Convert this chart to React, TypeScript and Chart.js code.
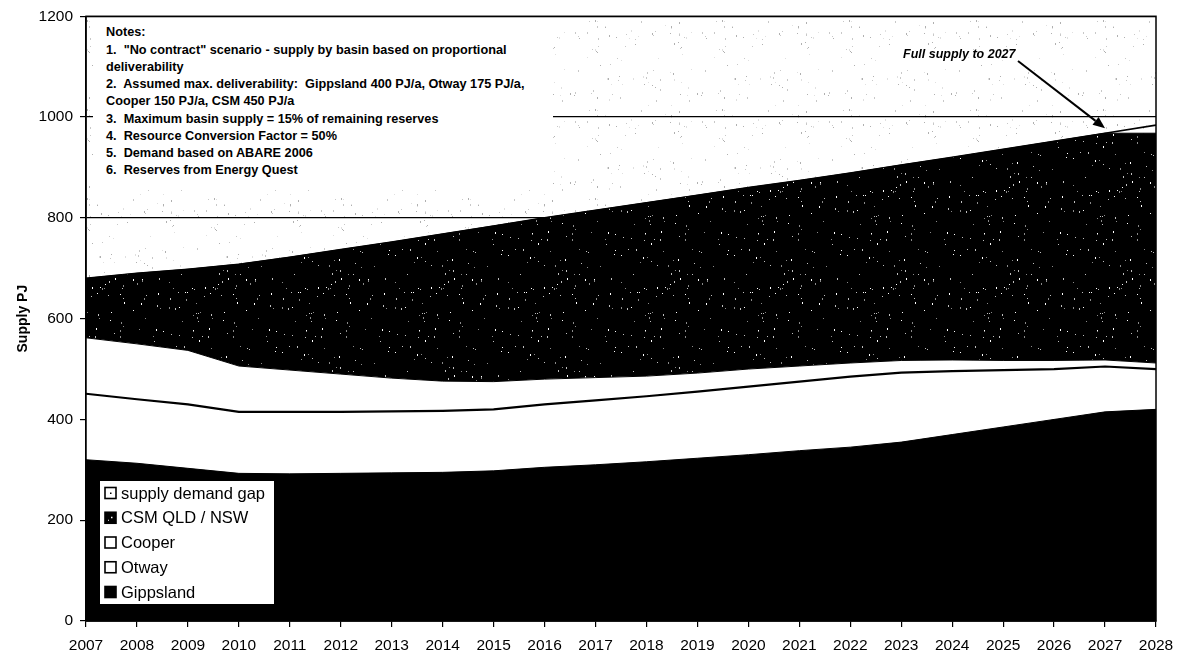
import React, { useEffect, useRef } from 'react';
import { Chart, registerables } from 'chart.js';

Chart.register(...registerables);

// ---------- data ----------
const years = [
  '2007', '2008', '2009', '2010', '2011', '2012', '2013', '2014', '2015', '2016', '2017',
  '2018', '2019', '2020', '2021', '2022', '2023', '2024', '2025', '2026', '2027', '2028',
];
const gippsland = [320, 313, 303, 293, 292, 293, 294, 295, 298, 305, 310, 316, 323, 330, 338, 345, 355, 370, 385, 400, 415, 420];
const otway = [131, 127, 127, 122, 123, 122, 122, 122, 122, 125, 128, 130, 132, 135, 137, 140, 138, 126, 113, 100, 90, 80];
const cooper = [111, 110, 107, 91, 83, 75, 66, 59, 55, 50, 45, 40, 37, 35, 31, 27, 24, 22, 19, 17, 13, 12];
const csm = [118, 140, 161, 202, 224, 247, 270, 292, 309, 320, 332, 344, 353, 360, 368, 377, 388, 402, 419, 435, 450, 456];
const supplyGap = [0, 0, 0, 0, 0, 0, 0, 0, 0, 0, 0, 0, 0, 0, 0, 0, 0, 0, 0, 0, 0, 16];

const seriesLabels = ['Gippsland', 'Otway', 'Cooper', 'CSM QLD / NSW', 'supply demand gap'];
const yMin = 0;
const yMax = 1200;
const yStep = 200;
const yTitle = 'Supply PJ';

const notesLines = [
  'Notes:',
  '1.  "No contract" scenario - supply by basin based on proportional',
  'deliverability',
  '2.  Assumed max. deliverability:  Gippsland 400 PJ/a, Otway 175 PJ/a,',
  'Cooper 150 PJ/a, CSM 450 PJ/a',
  '3.  Maximum basin supply = 15% of remaining reserves',
  '4.  Resource Conversion Factor = 50%',
  '5.  Demand based on ABARE 2006',
  '6.  Reserves from Energy Quest',
];
const annotationText = 'Full supply to 2027';
const annotationYearIndex = 20; // 2027
const annotationValue = 978;

const FONT = "'Liberation Sans', Arial, Helvetica, sans-serif";

// deterministic speckle texture (visual texture only, not data)
function speckle(ctx: CanvasRenderingContext2D, bg: string, dots: string[], density: number, w: number, h: number, seed: number) {
  const c = document.createElement('canvas');
  c.width = w;
  c.height = h;
  const g = c.getContext('2d')!;
  g.fillStyle = bg;
  g.fillRect(0, 0, w, h);
  for (let y = 0; y < h; y++) {
    for (let x = 0; x < w; x++) {
      let v = Math.imul(x + 1, 374761393) ^ Math.imul(y + 7, 668265263) ^ seed;
      v = Math.imul(v ^ (v >>> 13), 1274126177);
      v ^= v >>> 16;
      const r = (v >>> 0) / 4294967296;
      if (r < density) {
        g.fillStyle = dots[(v >>> 3) % dots.length];
        g.fillRect(x, y, 1, 1 + ((v >>> 7) % 3 === 0 ? 1 : 0));
      }
    }
  }
  return ctx.createPattern(c, 'repeat')!;
}

export default function App() {
  const canvasRef = useRef<HTMLCanvasElement | null>(null);

  useEffect(() => {
    const canvas = canvasRef.current!;
    const ctx = canvas.getContext('2d')!;
    const darkPattern = speckle(ctx, '#000000', ['#ffffff', '#bfbfbf', '#8a8a8a'], 0.009, 113, 97, 12345);
    const lightPattern = speckle(ctx, '#ffffff', ['#c8c8c8', '#e0e0e0', '#b0b0b0'], 0.008, 127, 89, 999);

    const markerStyles = [
      { fill: '#000000', dot: false },
      { fill: '#ffffff', dot: false },
      { fill: '#ffffff', dot: false },
      { fill: '#000000', dot: false },
      { fill: '#ffffff', dot: true },
    ];

    const bgPlugin = {
      id: 'bgSpeckle',
      beforeDraw(chart: any) {
        const a = chart.chartArea;
        const c = chart.ctx;
        c.save();
        c.fillStyle = lightPattern;
        c.fillRect(a.left, a.top, a.right - a.left, a.bottom - a.top);
        c.restore();
      },
    };

    const overlayPlugin = {
      id: 'overlay',
      afterDraw(chart: any) {
        const a = chart.chartArea;
        const c = chart.ctx;
        c.save();
        // plot border
        c.strokeStyle = '#000';
        c.lineWidth = 1.5;
        c.strokeRect(a.left, a.top, a.right - a.left, a.bottom - a.top);

        // legend box
        const lx = a.left + 14;
        const lw = 174;
        const lh = 123;
        const ly = a.bottom - 17 - lh;
        c.fillStyle = '#fff';
        c.fillRect(lx, ly, lw, lh);
        const n = chart.data.datasets.length;
        c.font = `16.5px ${FONT}`;
        c.textBaseline = 'middle';
        c.textAlign = 'left';
        for (let i = 0; i < n; i++) {
          const di = n - 1 - i;
          const cy = ly + 12 + i * 24.75;
          const st = markerStyles[di];
          c.fillStyle = st.fill;
          c.fillRect(lx + 5, cy - 5.5, 11, 11);
          c.strokeStyle = '#000';
          c.lineWidth = 1.6;
          c.strokeRect(lx + 5, cy - 5.5, 11, 11);
          if (di === 3) {
            c.fillStyle = '#fff';
            c.fillRect(lx + 11, cy - 1, 1.5, 1.5);
            c.fillRect(lx + 8, cy + 2, 1, 1);
          }
          if (st.dot) {
            c.fillStyle = '#000';
            c.fillRect(lx + 10, cy - 0.5, 1.5, 1.5);
          }
          c.fillStyle = '#000';
          c.fillText(chart.data.datasets[di].label, lx + 21, cy + 1);
        }

        // annotation arrow
        const tx = chart.scales.x.getPixelForValue(annotationYearIndex);
        const ty = chart.scales.y.getPixelForValue(annotationValue);
        const sx = 1018;
        const sy = 61;
        const ang = Math.atan2(ty - sy, tx - sx);
        const hl = 12;
        const hw = 5;
        const bx = tx - hl * Math.cos(ang);
        const by = ty - hl * Math.sin(ang);
        c.strokeStyle = '#000';
        c.lineWidth = 2;
        c.beginPath();
        c.moveTo(sx, sy);
        c.lineTo(bx, by);
        c.stroke();
        c.fillStyle = '#000';
        c.beginPath();
        c.moveTo(tx, ty);
        c.lineTo(bx + hw * Math.sin(ang), by - hw * Math.cos(ang));
        c.lineTo(bx - hw * Math.sin(ang), by + hw * Math.cos(ang));
        c.closePath();
        c.fill();
        c.restore();
      },
    };

    const seriesData = [gippsland, otway, cooper, csm, supplyGap];
    const fills = ['#000000', '#ffffff', '#ffffff', darkPattern, 'rgba(255,255,255,0)'];
    const widths = [1, 2.2, 1, 1, 1.6];

    const chart = new Chart(canvas, {
      type: 'line',
      data: {
        labels: years,
        datasets: seriesData.map((d, i) => ({
          label: seriesLabels[i],
          data: d,
          backgroundColor: fills[i] as any,
          borderColor: '#000000',
          borderWidth: widths[i],
          fill: i === 0 ? 'origin' : '-1',
          pointRadius: 0,
          tension: 0,
        })),
      },
      options: {
        responsive: false,
        animation: false,
        events: [],
        layout: { padding: { top: 15, right: 34, left: 0, bottom: 0 } },
        plugins: {
          legend: { display: false },
          tooltip: { enabled: false },
          title: { display: false },
        },
        scales: {
          x: {
            offset: false,
            grid: { drawOnChartArea: false, drawTicks: true, tickLength: 6, color: '#000', lineWidth: 1.2 },
            border: { color: '#000', width: 1.5 },
            ticks: {
              color: '#000',
              font: { size: 15.5, family: FONT },
              maxRotation: 0,
              autoSkip: false,
              padding: 9,
            },
            afterFit: (s: any) => { s.height = 40; },
          },
          y: {
            stacked: true,
            min: yMin,
            max: yMax,
            ticks: {
              stepSize: yStep,
              color: '#000',
              font: { size: 15.5, family: FONT },
              padding: 7,
              callback: (v: any) => String(v),
            },
            grid: { color: '#000', lineWidth: 1.2, tickLength: 6 },
            border: { color: '#000', width: 1.5 },
            title: {
              display: true,
              text: yTitle,
              color: '#000',
              font: { size: 14, weight: 'bold', family: FONT },
              padding: { top: 14.5, bottom: 0 },
            },
            afterFit: (s: any) => { s.width = 86; },
          },
        },
      },
      plugins: [bgPlugin, overlayPlugin],
    } as any);

    return () => chart.destroy();
  }, []);

  return (
    <div style={{ position: 'fixed', left: 0, top: 0, width: 1190, height: 661, background: '#fff' }}>
      <canvas ref={canvasRef} width={1190} height={661} style={{ display: 'block' }} />
      <div
        style={{
          position: 'absolute',
          left: 93,
          top: 18,
          width: 460,
          height: 172,
          background: '#fff',
          boxSizing: 'border-box',
          paddingLeft: 13,
          paddingTop: 6.4,
          fontFamily: FONT,
          fontWeight: 'bold',
          fontSize: 12.7,
          lineHeight: '17.25px',
          color: '#000',
          whiteSpace: 'pre',
        }}
      >
        {notesLines.map((t, i) => (
          <div key={i}>{t}</div>
        ))}
      </div>
      <div
        style={{
          position: 'absolute',
          left: 903,
          top: 45,
          lineHeight: '18px',
          fontFamily: FONT,
          fontWeight: 'bold',
          fontStyle: 'italic',
          fontSize: 12.5,
          color: '#000',
          whiteSpace: 'nowrap',
        }}
      >
        {annotationText}
      </div>
    </div>
  );
}
